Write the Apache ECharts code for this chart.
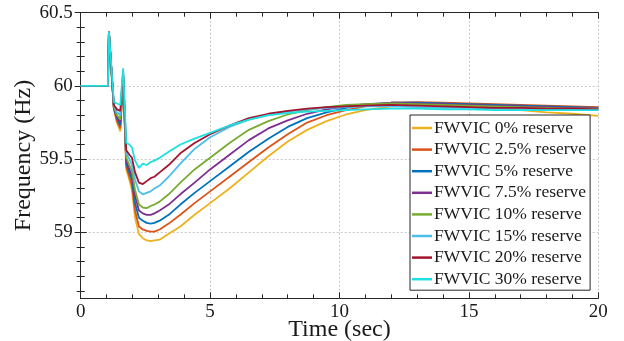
<!DOCTYPE html>
<html>
<head>
<meta charset="utf-8">
<script src="https://cdn.jsdelivr.net/npm/echarts@6/dist/echarts.min.js"></script>
<style>
html,body{margin:0;padding:0;background:#fff;}
#chart{width:624px;height:341px;}
</style>
</head>
<body>
<div id="chart"></div>
<script>
var time = [0, 1.05, 1.09, 1.28, 1.4, 1.53, 1.58, 1.64, 1.76, 1.88, 1.98, 2.1, 2.25, 2.4, 2.55, 2.7, 2.85, 3.05, 3.4, 3.85, 4.4, 5, 5.75, 6.5, 7.25, 8, 8.75, 9.5, 10.25, 11, 12, 13, 14, 15, 16, 17, 18, 19, 20];

var names = ['FWVIC 0% reserve','FWVIC 2.5% reserve','FWVIC 5% reserve','FWVIC 7.5% reserve','FWVIC 10% reserve','FWVIC 15% reserve','FWVIC 20% reserve','FWVIC 30% reserve'];
var colors = ['#EDB120','#D95319','#0072BD','#7E2F8E','#77AC30','#4DBEEE','#A2142F','#1EE0E0'];

var r0   = [60,60,60.37,59.84,59.75,59.69,59.68,60.04,59.43,59.36,59.29,59.10,58.99,58.96,58.945,58.94,58.945,58.95,58.99,59.04,59.12,59.20,59.30,59.41,59.52,59.62,59.70,59.76,59.805,59.835,59.86,59.87,59.87,59.86,59.85,59.835,59.82,59.81,59.795];
var r2_5 = [60,60,60.37,59.85,59.76,59.71,59.70,60.05,59.45,59.38,59.32,59.15,59.04,59.02,59.01,59.005,59.005,59.02,59.06,59.12,59.20,59.28,59.38,59.48,59.58,59.67,59.75,59.80,59.835,59.86,59.885,59.89,59.885,59.88,59.875,59.87,59.865,59.86,59.855];
var r5   = [60,60,60.37,59.85,59.78,59.73,59.72,60.06,59.47,59.41,59.36,59.20,59.10,59.08,59.065,59.06,59.065,59.08,59.12,59.19,59.27,59.35,59.45,59.55,59.64,59.72,59.78,59.82,59.85,59.87,59.885,59.885,59.88,59.875,59.87,59.865,59.86,59.855,59.85];
var r7_5 = [60,60,60.37,59.86,59.79,59.75,59.74,60.07,59.49,59.43,59.39,59.25,59.15,59.13,59.12,59.12,59.13,59.15,59.19,59.26,59.34,59.43,59.53,59.63,59.71,59.765,59.81,59.84,59.86,59.875,59.885,59.88,59.875,59.87,59.865,59.86,59.855,59.85,59.85];
var r10  = [60,60,60.37,59.86,59.80,59.77,59.76,60.08,59.51,59.46,59.42,59.29,59.19,59.17,59.165,59.18,59.19,59.21,59.26,59.34,59.43,59.51,59.61,59.70,59.76,59.805,59.835,59.855,59.87,59.875,59.88,59.875,59.87,59.865,59.86,59.855,59.85,59.845,59.845];
var r15  = [60,60,60.37,59.87,59.82,59.80,59.79,60.09,59.54,59.50,59.46,59.36,59.28,59.26,59.27,59.28,59.30,59.32,59.38,59.47,59.57,59.65,59.72,59.77,59.80,59.825,59.84,59.85,59.855,59.86,59.86,59.855,59.85,59.85,59.845,59.845,59.84,59.84,59.84];
var r20  = [60,60,60.37,59.87,59.84,59.83,59.82,60.10,59.56,59.53,59.51,59.41,59.34,59.33,59.35,59.37,59.38,59.41,59.46,59.54,59.61,59.67,59.73,59.78,59.81,59.83,59.845,59.855,59.86,59.865,59.87,59.865,59.86,59.855,59.85,59.85,59.845,59.845,59.84];
var r30  = [60,60,60.37,59.89,59.88,59.87,59.88,60.12,59.61,59.60,59.58,59.49,59.44,59.47,59.46,59.48,59.49,59.51,59.55,59.60,59.64,59.68,59.73,59.77,59.80,59.815,59.825,59.83,59.835,59.84,59.845,59.845,59.84,59.84,59.835,59.835,59.835,59.835,59.835];

var seriesValues = [r0, r2_5, r5, r7_5, r10, r15, r20, r30];
var xTicks = [0, 5, 10, 15, 20];
var xMinorTicks = [1, 2, 3, 4, 6, 7, 8, 9, 11, 12, 13, 14, 16, 17, 18, 19];
var yTicks = [59, 59.5, 60, 60.5];
var yMinorTicks = [58.6, 58.7, 58.8, 58.9, 59.1, 59.2, 59.3, 59.4, 59.6, 59.7, 59.8, 59.9, 60.1, 60.2, 60.3, 60.4];
var yMin = 58.55, yMax = 60.5;

var FONT = 'Liberation Serif';
var AX = '#262626';
var TXT = '#1a1a1a';

var chart = echarts.init(document.getElementById('chart'), null, {renderer: 'canvas'});

function xAxisDef(pos, major, showLabel) {
  var vals = major ? xTicks : xMinorTicks;
  return {
    type: 'value', position: pos, min: 0, max: 20,
    axisLine: {show: major, lineStyle: {color: AX, width: 1}},
    axisTick: {show: true, inside: true, length: major ? 6 : 4, customValues: vals, lineStyle: {color: AX}},
    axisLabel: {show: showLabel, customValues: xTicks, color: TXT, fontFamily: FONT, fontSize: 19, margin: 4},
    splitLine: {show: showLabel, lineStyle: {color: '#c8c8c8', type: [2, 2], width: 1}}
  };
}
function yAxisDef(pos, major, showLabel) {
  var vals = major ? yTicks : yMinorTicks;
  return {
    type: 'value', position: pos, min: yMin, max: yMax,
    axisLine: {show: major, lineStyle: {color: AX, width: 1}},
    axisTick: {show: true, inside: true, length: major ? 6 : 4, customValues: vals, lineStyle: {color: AX}},
    axisLabel: {show: showLabel, customValues: yTicks, color: TXT, fontFamily: FONT, fontSize: 19, margin: 8},
    splitLine: {show: showLabel, lineStyle: {color: '#c8c8c8', type: [2, 2], width: 1}}
  };
}

var xa = xAxisDef('bottom', true, true);
xa.name = 'Time (sec)';
xa.nameLocation = 'middle';
xa.nameGap = 19;
xa.nameMoveOverlap = false;
xa.nameTextStyle = {fontFamily: FONT, fontSize: 24, color: TXT};

var ya = yAxisDef('left', true, true);
ya.name = 'Frequency (Hz)';
ya.nameLocation = 'middle';
ya.nameGap = 45;
ya.nameMoveOverlap = false;
ya.nameTextStyle = {fontFamily: FONT, fontSize: 24, color: TXT};

var series = names.map(function (n, i) {
  return {
    name: n, type: 'line', xAxisIndex: 0, yAxisIndex: 0,
    showSymbol: false, symbol: 'none',
    lineStyle: {width: 1.8, color: colors[i]},
    itemStyle: {color: colors[i]},
    data: time.map(function (t, k) { return [t, seriesValues[i][k]]; }),
    z: 2 + i
  };
});

chart.setOption({
  animation: false,
  backgroundColor: '#fff',
  grid: {left: 80.7, right: 25.7, top: 12.7, bottom: 42.7, containLabel: false, outerBoundsMode: 'none'},
  xAxis: [xa, xAxisDef('bottom', false, false), xAxisDef('top', true, false), xAxisDef('top', false, false)],
  yAxis: [ya, yAxisDef('left', false, false), yAxisDef('right', true, false), yAxisDef('right', false, false)],
  legend: {
    orient: 'vertical', left: 410, top: 115,
    data: names,
    icon: 'rect', itemWidth: 20, itemHeight: 2.5, itemGap: 3.6,
    padding: [4, 4, 2, 2],
    backgroundColor: '#fff', borderColor: AX, borderWidth: 1, borderRadius: 0,
    textStyle: {fontFamily: FONT, fontSize: 17.5, color: TXT, lineHeight: 17, padding: [0,0,0,-3]}
  },
  series: series
});
</script>
</body>
</html>
